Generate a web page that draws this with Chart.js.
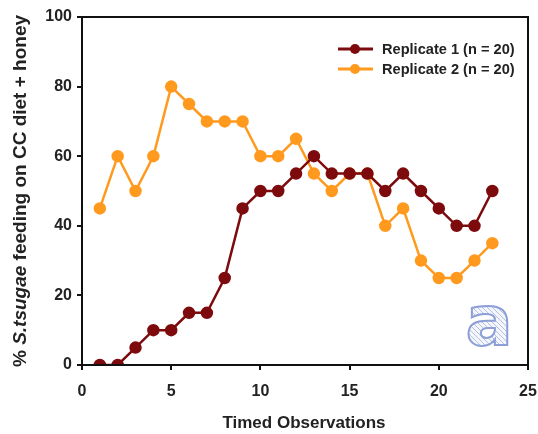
<!DOCTYPE html>
<html>
<head>
<meta charset="utf-8">
<script src="https://cdn.jsdelivr.net/npm/chart.js@4.4.1/dist/chart.umd.min.js"></script>
<style>
  body { margin: 0; background: #fff; }
</style>
</head>
<body>
<canvas id="myChart" width="538" height="434"></canvas>
<script>
var observations = [1, 2, 3, 4, 5, 6, 7, 8, 9, 10, 11, 12, 13, 14, 15, 16, 17, 18, 19, 20, 21, 22, 23];
var replicate1 = [0, 0, 5, 10, 10, 15, 15, 25, 45, 50, 50, 55, 60, 55, 55, 55, 50, 55, 50, 45, 40, 40, 50];
var replicate2 = [45, 60, 50, 60, 80, 75, 70, 70, 70, 60, 60, 65, 55, 50, 55, 55, 40, 45, 30, 25, 25, 30, 35];
var seriesLabels = ['Replicate 1 (n = 20)', 'Replicate 2 (n = 20)'];
var xTicks = [0, 5, 10, 15, 20, 25];
var yTicks = [0, 20, 40, 60, 80, 100];

var FONT = '"Liberation Sans", Arial, sans-serif';

function points(ys) {
  return observations.map(function (x, i) { return { x: x, y: ys[i] }; });
}

// frame, axis titles, inside legend and the panel letter
var extras = {
  id: 'extras',
  afterDraw: function (chart) {
    var ctx = chart.ctx, a = chart.chartArea;
    ctx.save();

    ctx.strokeStyle = '#111';
    ctx.lineWidth = 2;
    ctx.strokeRect(a.left, a.top, a.right - a.left, a.bottom - a.top);

    // y title with italic species name
    var parts = [['% ', 'bold'], ['S.tsugae', 'italic bold'], [' feeding on CC diet + honey', 'bold']];
    ctx.fillStyle = '#222';
    ctx.textBaseline = 'middle';
    var total = 0;
    parts.forEach(function (p) { ctx.font = p[1] + ' 19px ' + FONT; total += ctx.measureText(p[0]).width; });
    ctx.translate(21, 191);
    ctx.rotate(-Math.PI / 2);
    var x = -total / 2;
    parts.forEach(function (p) {
      ctx.font = p[1] + ' 19px ' + FONT;
      ctx.textAlign = 'left';
      ctx.fillText(p[0], x, 0);
      x += ctx.measureText(p[0]).width;
    });
    ctx.setTransform(1, 0, 0, 1, 0, 0);

    // x title
    ctx.font = 'bold 17px ' + FONT;
    ctx.textAlign = 'center';
    ctx.fillText('Timed Observations', 304, 423);

    // legend
    chart.data.datasets.forEach(function (ds, i) {
      var y = 49 + i * 20;
      ctx.strokeStyle = ds.borderColor;
      ctx.lineWidth = 3;
      ctx.beginPath();
      ctx.moveTo(338, y);
      ctx.lineTo(373, y);
      ctx.stroke();
      ctx.fillStyle = ds.borderColor;
      ctx.beginPath();
      ctx.arc(355, y, 5, 0, Math.PI * 2);
      ctx.fill();
      ctx.fillStyle = '#222';
      ctx.font = 'bold 14.6px ' + FONT;
      ctx.textAlign = 'left';
      ctx.fillText(ds.label, 382, y + 1);
    });

    // hatched panel letter
    var pc = document.createElement('canvas');
    pc.width = 5; pc.height = 5;
    var p = pc.getContext('2d');
    p.fillStyle = '#f4f6fc';
    p.fillRect(0, 0, 5, 5);
    p.strokeStyle = '#b4c2e6';
    p.lineWidth = 1;
    p.beginPath();
    p.moveTo(0, 0); p.lineTo(5, 5);
    p.stroke();
    ctx.font = 'bold 70px "DejaVu Sans", ' + FONT;
    ctx.textAlign = 'center';
    ctx.textBaseline = 'alphabetic';
    ctx.fillStyle = ctx.createPattern(pc, 'repeat');
    ctx.fillText('a', 489, 345);
    ctx.strokeStyle = '#8c9fd6';
    ctx.lineWidth = 2;
    ctx.strokeText('a', 489, 345);

    ctx.restore();
  }
};

var ctx = document.getElementById('myChart').getContext('2d');
var myChart = new Chart(ctx, {
  type: 'line',
  data: {
    datasets: [{
      label: seriesLabels[0],
      data: points(replicate1),
      borderColor: '#7d0a0c',
      backgroundColor: '#7d0a0c',
      borderWidth: 2.5,
      pointRadius: 5,
      pointHoverRadius: 5
    }, {
      label: seriesLabels[1],
      data: points(replicate2),
      borderColor: '#ff9a1f',
      backgroundColor: '#ff9a1f',
      borderWidth: 2.5,
      pointRadius: 5,
      pointHoverRadius: 5
    }]
  },
  options: {
    responsive: false,
    animation: false,
    layout: { padding: { top: 17, right: 10, left: 0, bottom: 0 } },
    plugins: { legend: { display: false }, tooltip: { enabled: false } },
    scales: {
      x: {
        type: 'linear',
        min: 0,
        max: 25,
        afterBuildTicks: function (s) { s.ticks = xTicks.map(function (v) { return { value: v }; }); },
        afterFit: function (s) { s.height = 69; s.paddingLeft = 0; s.paddingRight = 0; },
        grid: { drawOnChartArea: false, drawTicks: true, tickLength: 5, color: '#111', lineWidth: 2 },
        border: { display: true, color: '#111', width: 2 },
        ticks: { color: '#222', padding: 12, maxRotation: 0, font: { family: FONT, size: 16, weight: 'bold' } }
      },
      y: {
        min: 0,
        max: 100,
        afterBuildTicks: function (s) { s.ticks = yTicks.map(function (v) { return { value: v }; }); },
        afterFit: function (s) { s.width = 82; s.paddingTop = 0; s.paddingBottom = 0; },
        grid: { drawOnChartArea: false, drawTicks: true, tickLength: 5, color: '#111', lineWidth: 2 },
        border: { display: true, color: '#111', width: 2 },
        ticks: { color: '#222', padding: 5, font: { family: FONT, size: 16, weight: 'bold' } }
      }
    }
  },
  plugins: [extras]
});
</script>
</body>
</html>
